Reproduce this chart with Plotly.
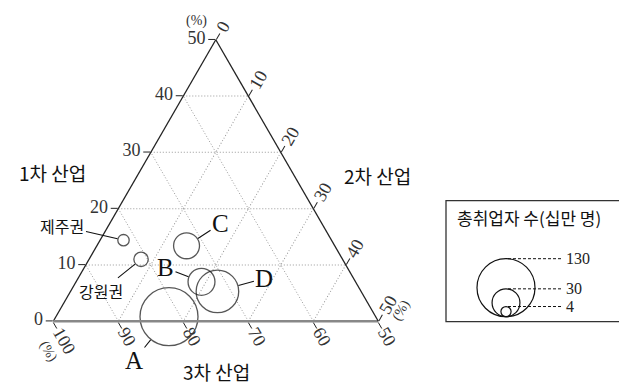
import math
import plotly.graph_objects as go

# ---- data ----
regions = ["A", "B", "C", "D", "강원권", "제주권"]
primary = [0.8, 7.0, 13.4, 5.3, 11.0, 14.4]       # 1차 산업 (%)
secondary = [17.4, 19.3, 13.8, 22.6, 8.0, 3.6]    # 2차 산업 (%)
tertiary = [81.8, 73.7, 72.8, 72.1, 81.0, 82.0]   # 3차 산업 (%)
workers = [130, 28, 26, 70, 8, 5]                 # 총취업자 수 (십만 명)
legend_values = [130, 30, 4]
tick_a = [0, 10, 20, 30, 40, 50]
tick_b = [50, 60, 70, 80, 90, 100]
tick_c = [0, 10, 20, 30, 40, 50]

OFF = 8  # page body margin
W, H = 627 - OFF, 385 - OFF
DMAX = 58.0
SIZEREF = 2.0 * max(workers) / DMAX ** 2
TICK_FS = 18


def diam(v):
    return math.sqrt(2.0 * v / SIZEREF)


def PX(x):
    return (x - OFF) / W


def PY(y):
    return 1 - (y - OFF) / H


DOM_X = [PX(53.3), PX(378.3)]
DOM_Y = [PY(322.0), PY(39.0)]


def tern_to_paper(a, c):
    w = (DOM_X[1] - DOM_X[0]) * W
    h = (DOM_Y[1] - DOM_Y[0]) * H
    if w * math.sqrt(3) / 2 > h:
        w = h * 2 / math.sqrt(3)
    else:
        h = w * math.sqrt(3) / 2
    cx = (DOM_X[0] + DOM_X[1]) / 2 * W
    cy = (DOM_Y[0] + DOM_Y[1]) / 2 * H
    blx, bly = cx - w / 2, cy - h / 2
    px = blx + (a / 50.0) * (w / 2) + (c / 50.0) * w
    py = bly + (a / 50.0) * h
    return px / W, py / H


SERIF = "Liberation Serif"
KR = "Noto Sans CJK KR"

fig = go.Figure()
fig.add_trace(go.Scatterternary(
    a=primary, b=tertiary, c=secondary,
    mode="markers",
    marker=dict(size=workers, sizemode="area", sizeref=SIZEREF,
                color="rgba(0,0,0,0)", line=dict(color="#111", width=1.3)),
    cliponaxis=False, hoverinfo="text", text=regions, showlegend=False,
))

axis_common = dict(
    ticks="outside", ticklen=7, tickcolor="#222", tickwidth=1.2,
    tickfont=dict(family=SERIF, size=TICK_FS, color="#333"),
    gridcolor="#999", griddash="1px,2px", gridwidth=1,
    showline=True, title=dict(text=""),
)
fig.update_layout(
    width=W, height=H,
    margin=dict(l=0, r=0, t=0, b=0),
    paper_bgcolor="white",
    ternary=dict(
        sum=100,
        domain=dict(x=DOM_X, y=DOM_Y),
        bgcolor="white",
        aaxis=dict(min=0, tickmode="array", tickvals=tick_a,
                   linecolor="#222", linewidth=1.3, **axis_common),
        baxis=dict(min=50, tickmode="array", tickvals=tick_b, showticklabels=False,
                   linecolor="#888", linewidth=2.5, **axis_common),
        caxis=dict(min=0, tickmode="array", tickvals=tick_c, showticklabels=False,
                   linecolor="#222", linewidth=1.3, **axis_common),
    ),
)

annotations = []
tick_font = dict(family=SERIF, size=TICK_FS, color="#333")
# rotated tick labels for the 3차 (bottom) and 2차 (right) axes
for b in tick_b:
    x, y = tern_to_paper(0, 100 - b)
    s = len(str(b)) * TICK_FS * 0.25 + 9
    annotations.append(dict(x=x, y=y, xref="paper", yref="paper", text=str(b),
                            showarrow=False, textangle=60, xanchor="center", yanchor="middle",
                            xshift=0.5 * s, yshift=-0.866 * s, font=tick_font))
for c in tick_c:
    x, y = tern_to_paper(50 - c, c)
    s = len(str(c)) * TICK_FS * 0.25 + 10
    annotations.append(dict(x=x, y=y, xref="paper", yref="paper", text=str(c),
                            showarrow=False, textangle=-60, xanchor="center", yanchor="middle",
                            xshift=0.5 * s, yshift=0.866 * s, font=tick_font))

# point labels with leader lines
label_offsets = {
    "A": (-35, 44), "B": (-36, -14), "C": (34, -22), "D": (47, -13),
    "강원권": (-40, 32), "제주권": (-61, -14),
}
for name, a, c, v in zip(regions, primary, secondary, workers):
    x, y = tern_to_paper(a, c)
    ax, ay = label_offsets[name]
    font = dict(family=SERIF, size=25, color="#111") if len(name) == 1 else \
        dict(family=KR, size=16, color="#111")
    annotations.append(dict(
        x=x, y=y, xref="paper", yref="paper", text=name, showarrow=True,
        ax=ax, ay=ay, arrowhead=0, arrowwidth=1.1, arrowcolor="#111",
        standoff=diam(v) / 2 + 0.5, font=font,
    ))

# axis titles
for txt, xp, yp in [("1차 산업", 52.5, 172), ("2차 산업", 377.5, 175), ("3차 산업", 216.7, 371)]:
    annotations.append(dict(x=PX(xp), y=PY(yp), xref="paper", yref="paper",
                            xanchor="center", yanchor="middle",
                            text=txt, showarrow=False,
                            font=dict(family=KR, size=19, color="#111")))
# (%) marks
for xp, yp, ang in [(196, 21, 0), (48, 351, 60), (401, 311, -60)]:
    annotations.append(dict(x=PX(xp), y=PY(yp), xref="paper", yref="paper",
                            xanchor="center", yanchor="middle",
                            text="(%)", showarrow=False, textangle=ang,
                            font=dict(family=SERIF, size=14, color="#333")))

# size legend
LX, LBOT = 506.0, 316.7
shapes = [dict(type="rect", xref="paper", yref="paper",
               x0=PX(446), x1=1.05, y0=PY(321.7), y1=PY(200.7),
               line=dict(color="#333", width=1.3), fillcolor="rgba(0,0,0,0)")]
annotations.append(dict(x=PX(455), y=PY(217), xref="paper", yref="paper",
                        xanchor="left", yanchor="middle",
                        text="총취업자 수(십만 명)", showarrow=False,
                        font=dict(family=KR, size=17, color="#111")))
for v in legend_values:
    d = diam(v)
    shapes.append(dict(type="circle", xref="paper", yref="paper",
                       xsizemode="pixel", ysizemode="pixel",
                       xanchor=PX(LX), yanchor=PY(LBOT),
                       x0=-d / 2, x1=d / 2, y0=0, y1=d,
                       line=dict(color="#111", width=1.2)))
    shapes.append(dict(type="line", xref="paper", yref="paper",
                       ysizemode="pixel", yanchor=PY(LBOT),
                       x0=PX(LX + 2), x1=PX(561), y0=d, y1=d,
                       line=dict(color="#111", width=1, dash="3px,2px")))
    annotations.append(dict(x=PX(564), y=PY(LBOT), yshift=d, xref="paper", yref="paper",
                            xanchor="left", yanchor="middle", text=str(v), showarrow=False,
                            font=dict(family=SERIF, size=16, color="#222")))

fig.update_layout(annotations=annotations, shapes=shapes)
fig.write_html("out.html")
